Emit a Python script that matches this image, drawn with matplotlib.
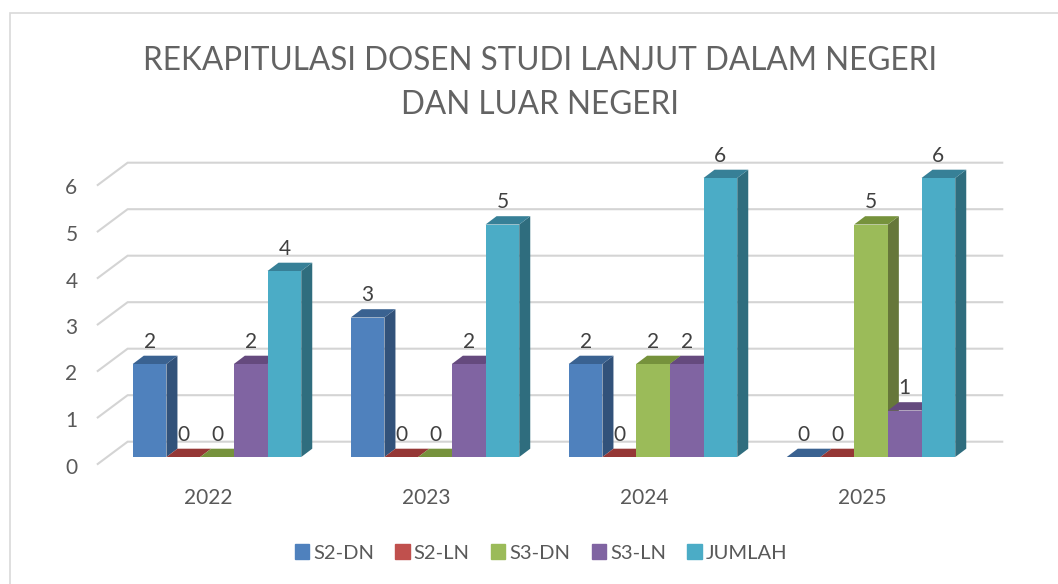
import matplotlib
matplotlib.use("Agg")
import matplotlib.pyplot as plt
from matplotlib.patches import Rectangle
from matplotlib.transforms import Affine2D

plt.rcParams["font.family"] = ["Lato", "DejaVu Sans"]

years = ["2022", "2023", "2024", "2025"]
series = ["S2-DN", "S2-LN", "S3-DN", "S3-LN", "JUMLAH"]
s2_dn = [2, 3, 2, 0]
s2_ln = [0, 0, 0, 0]
s3_dn = [0, 0, 2, 5]
s3_ln = [2, 2, 2, 1]
jumlah = [4, 5, 6, 6]
values = [s2_dn, s2_ln, s3_dn, s3_ln, jumlah]

front_colors = ["#4F81BD", "#C0504D", "#9BBB59", "#8064A2", "#4BACC6"]
top_colors = ["#3A6291", "#953735", "#76923C", "#654A7E", "#378097"]
side_colors = ["#32527A", "#7E2F2D", "#66773A", "#553F6D", "#2F6D7E"]

W, H = 1058, 584
bar_w = 33.7 / 218
dx = 11 / 218  # bar depth
dy = 8.3 / 46.5

fig = plt.figure(figsize=(W / 100, H / 100), dpi=100)
ax = fig.add_axes([108 / W, 1 - 457 / H, 872 / W, 279 / H])
ax.set_xlim(-0.5, 3.5)
ax.set_ylim(0, 6)

# chart border, right and bottom sides fall outside the picture
fig.add_artist(Rectangle((10 / W, -0.02), 1.02, 1.02 - 13 / H, transform=fig.transFigure,
                         fill=False, edgecolor="#D9D9D9", linewidth=1.2))

# walls: grid lines with the diagonal part on the left
for v in range(7):
    ax.plot([-0.547, -0.41, 3.602], [v - 0.15, v + 0.329, v + 0.329], color="#D4D4D4",
            linewidth=1.5, clip_on=False, zorder=1, solid_joinstyle="miter")

# bars, left to right so the later ones cover the earlier ones
z = 2
for i, name in enumerate(series):
    for j, v in enumerate(values[i]):
        x0 = j + (i - 2.5) * bar_w
        x1 = x0 + bar_w
        ax.fill([x1, x1 + dx, x1 + dx, x1], [0, dy, v + dy, v], color=side_colors[i],
                linewidth=0, clip_on=False, zorder=z)
        ax.fill([x0, x1, x1 + dx, x0 + dx], [v, v, v + dy, v + dy], color=top_colors[i],
                linewidth=0, clip_on=False, zorder=z)
        ax.bar(x0, v, bar_w, align="edge", color=front_colors[i], linewidth=0, clip_on=False, zorder=z)
        ax.text(x0 + bar_w / 2, v + 0.48, str(v), ha="center", va="center", fontsize=15,
                color="#404040", zorder=20)
        z += 1

ax.set_xticks(range(4))
ax.set_xticklabels(years)
ax.set_yticks(range(7))
ax.tick_params(axis="both", length=0, labelsize=15, labelcolor="#595959")
ax.tick_params(axis="x", pad=22)
ax.tick_params(axis="y", pad=22)
for spine in ax.spines.values():
    spine.set_visible(False)
for label in ax.get_xticklabels():
    label.set_transform(label.get_transform() + Affine2D().translate(-9, 0))
for label in ax.get_yticklabels():
    label.set_transform(label.get_transform() + Affine2D().translate(0, -8.5))

handles = [Rectangle((0, 0), 1, 1, color=c) for c in front_colors]
fig.legend(handles, series, ncol=5, frameon=False, loc="center", bbox_to_anchor=(541 / W, 1 - 553 / H),
           fontsize=14.5, labelcolor="#595959", handlelength=0.7, handleheight=0.7,
           handletextpad=0.2, columnspacing=1.07)

fig.text(540 / W, 1 - 83 / H, "REKAPITULASI DOSEN STUDI LANJUT DALAM NEGERI\nDAN LUAR NEGERI",
         ha="center", va="center", fontsize=22.7, color="#636363", linespacing=1.6)

fig.savefig("out.png", dpi=100)
